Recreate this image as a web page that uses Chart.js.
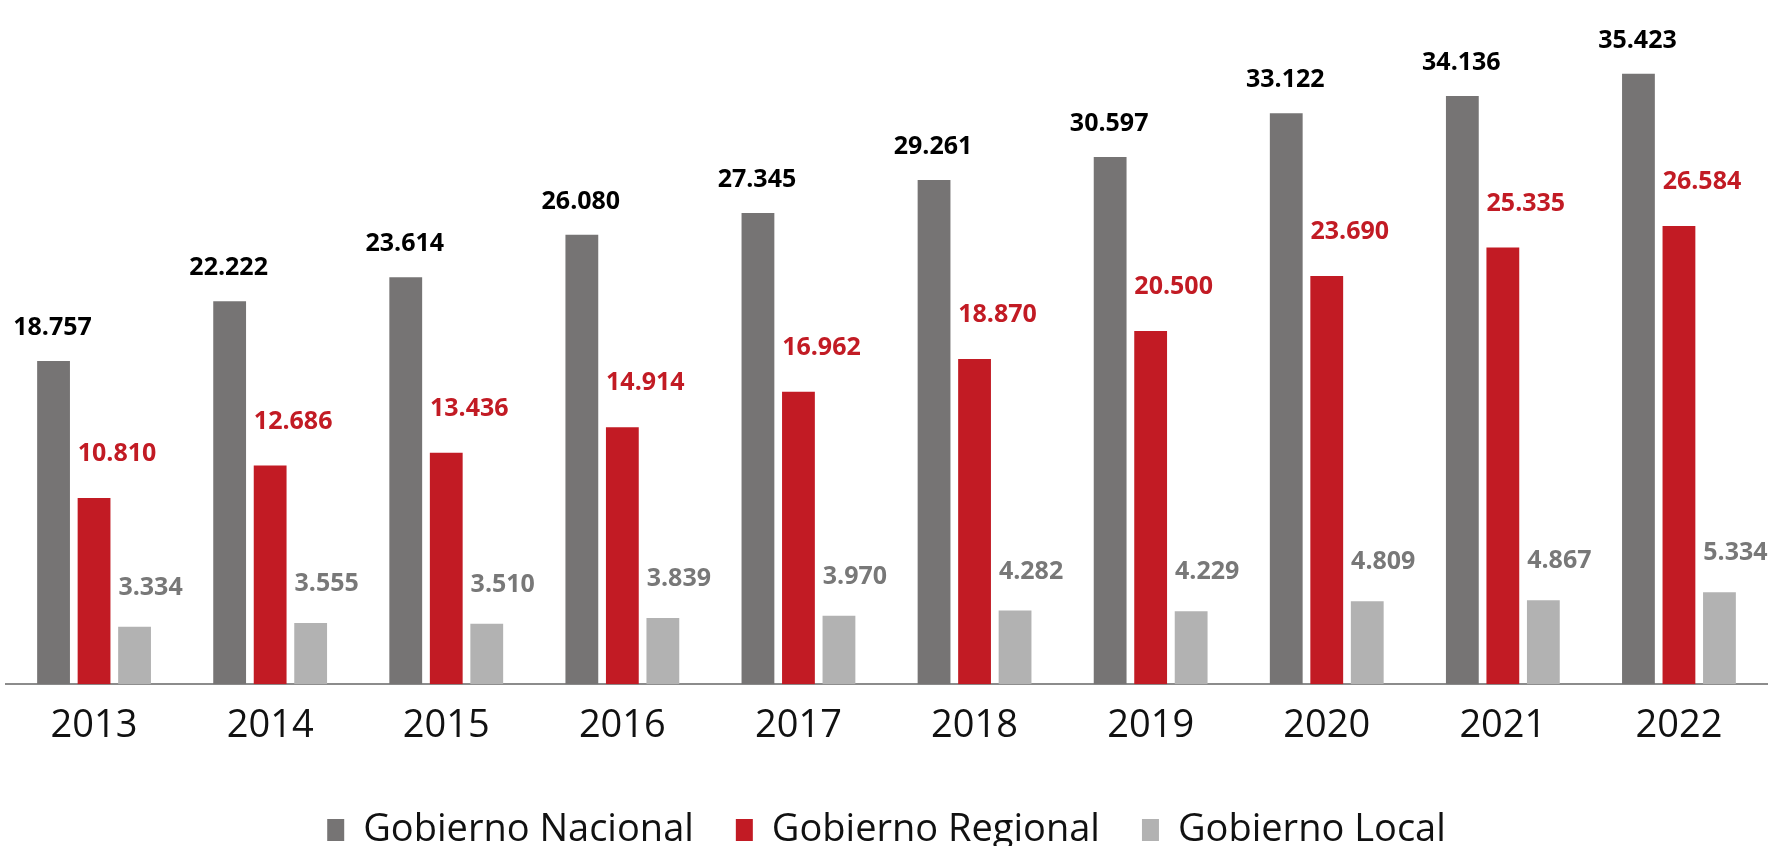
<!DOCTYPE html>
<html lang="es">
<head>
<meta charset="utf-8">
<title>Gobierno Nacional, Regional y Local 2013-2022</title>
<script src="https://cdn.jsdelivr.net/npm/chart.js@4.4.1/dist/chart.umd.min.js"></script>
<style>
  html, body { margin: 0; padding: 0; background: #ffffff; }
  #contenedor { width: 1769px; height: 846px; position: relative; }
</style>
</head>
<body>
<div id="contenedor"><canvas id="grafico"></canvas></div>
<script>
// Datos (en miles)
const anios = ["2013", "2014", "2015", "2016", "2017", "2018", "2019", "2020", "2021", "2022"];
const gobiernoNacional = [18757, 22222, 23614, 26080, 27345, 29261, 30597, 33122, 34136, 35423];
const gobiernoRegional = [10810, 12686, 13436, 14914, 16962, 18870, 20500, 23690, 25335, 26584];
const gobiernoLocal = [3334, 3555, 3510, 3839, 3970, 4282, 4229, 4809, 4867, 5334];

const COLORES = {
  nacional: "#767474",
  regional: "#C21B24",
  local: "#B2B2B2",
};

// Desplazamiento de cada rótulo respecto al tope de su barra
const DESVIOS = [
  { dx: -1, dy: 33, color: "#000000" },
  { dx: 23, dy: 44, color: "#C21B24" },
  { dx: 16, dy: 39, color: "#787878" },
];

// 18757 -> "18.757", 3334 -> "3.334"
function formatearMiles(valor) {
  return String(valor).replace(/\B(?=(\d{3})+(?!\d))/g, ".");
}

const rotulosBarras = {
  id: "rotulosBarras",
  afterDatasetsDraw(chart) {
    const { ctx } = chart;
    chart.data.datasets.forEach((ds, i) => {
      const meta = chart.getDatasetMeta(i);
      const desvio = DESVIOS[i];
      ctx.save();
      ctx.font = "bold 25px 'Open Sans'";
      ctx.fillStyle = desvio.color;
      ctx.textAlign = "center";
      ctx.textBaseline = "middle";
      meta.data.forEach((barra, j) => {
        ctx.fillText(formatearMiles(ds.data[j]), barra.x + desvio.dx, barra.y - desvio.dy);
      });
      ctx.restore();
    });
  },
};

new Chart(document.getElementById("grafico"), {
  type: "bar",
  data: {
    labels: anios,
    datasets: [
      { label: "Gobierno Nacional", data: gobiernoNacional, backgroundColor: COLORES.nacional },
      { label: "Gobierno Regional", data: gobiernoRegional, backgroundColor: COLORES.regional },
      { label: "Gobierno Local", data: gobiernoLocal, backgroundColor: COLORES.local },
    ],
  },
  options: {
    responsive: true,
    maintainAspectRatio: false,
    animation: false,
    datasets: { bar: { categoryPercentage: 0.69, barPercentage: 0.81 } },
    layout: { padding: { left: 6, right: 2, top: 0, bottom: 0 } },
    scales: {
      x: {
        grid: { display: false, drawTicks: false },
        border: { display: true, color: "#8C8C8C", width: 2 },
        ticks: { color: "#111111", padding: 19.6, font: { family: "'Open Sans'", size: 38 } },
      },
      y: {
        display: false,
        min: 0,
        max: 39700,
      },
    },
    plugins: {
      legend: {
        position: "bottom",
        maxHeight: 77,
        labels: {
          color: "#111111",
          boxWidth: 17,
          boxHeight: 22,
          padding: 42,
          font: { family: "'Open Sans'", size: 38 },
        },
      },
      tooltip: { enabled: false },
    },
  },
  plugins: [rotulosBarras],
});
</script>
</body>
</html>
